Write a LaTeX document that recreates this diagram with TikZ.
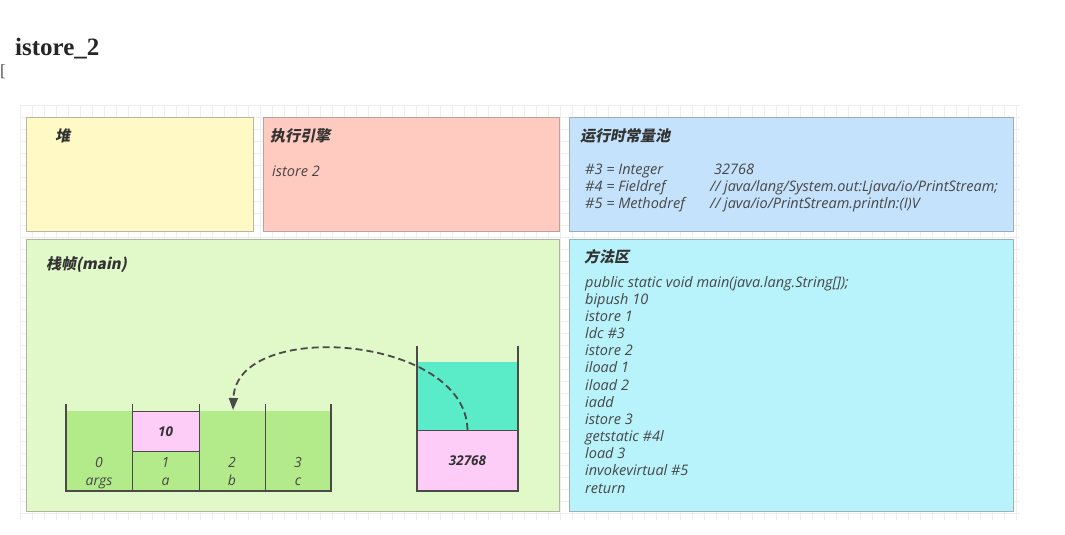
\documentclass[tikz,border=0pt]{standalone}
\usepackage{fontspec}
\setmainfont{Open Sans}
\newfontfamily\cjk[FakeSlant=0.2]{Noto Sans CJK SC}
\newfontfamily\titlefont{Liberation Serif}
\usetikzlibrary{arrows.meta}
\definecolor{heapc}{HTML}{FFF9C6}
\definecolor{enginec}{HTML}{FFCBC0}
\definecolor{poolc}{HTML}{C4E2FB}
\definecolor{framec}{HTML}{E1F9C9}
\definecolor{methodc}{HTML}{B8F2FA}
\definecolor{slotc}{HTML}{B3EB8A}
\definecolor{pinkc}{HTML}{FDCDF8}
\definecolor{cyanc}{HTML}{5AEBC9}
\definecolor{gridc}{HTML}{EEEEEE}
\definecolor{txtc}{HTML}{333333}
\definecolor{wallc}{HTML}{4A4A4A}
\tikzset{
  area/.style={draw=#1!60!black!70, line width=0.8pt, anchor=north west, inner sep=0pt},
  hdr/.style={anchor=base west, inner sep=0pt, font=\cjk\bfseries\fontsize{15}{17}\selectfont, text=txtc},
  code/.style={anchor=base west, inner sep=0pt, font=\itshape\fontsize{14.5}{17}\selectfont, text=txtc!90},
  cell/.style={anchor=base, inner sep=0pt, font=\itshape\fontsize{14}{16}\selectfont, text=txtc!90},
  val/.style={anchor=center, inner sep=0pt, font=\bfseries\itshape\fontsize{13.5}{15}\selectfont, text=txtc},
  wall/.style={draw=wallc, line width=1.6pt},
  div/.style={draw=wallc, line width=1pt},
}
\begin{document}
\begin{tikzpicture}[x=1pt,y=-1pt]
\useasboundingbox (0,0) rectangle (1065,535);
\fill[white] (0,0) rectangle (1065,535);
% faint grid
\foreach \gx in {20,32,...,1020} \draw[gridc, line width=0.4pt] (\gx,105) -- (\gx,520);
\foreach \gy in {105,117,...,520} \draw[gridc, line width=0.4pt] (20,\gy) -- (1020,\gy);
% title
\node[anchor=base west, inner sep=0pt, font=\titlefont\bfseries\fontsize{25}{29}\selectfont, text=black!85] (title) at (15,56) {istore\_2};
\node[anchor=base west, inner sep=0pt, font=\titlefont\fontsize{17}{19}\selectfont, text=black!70] (brk) at (0,77) {[};
% areas
\node[area=heapc, fill=heapc, minimum width=227pt, minimum height=114pt] (heap) at (26,117) {};
\node[area=enginec, fill=enginec, minimum width=296pt, minimum height=114pt] (engine) at (263,117) {};
\node[area=poolc, fill=poolc, minimum width=444pt, minimum height=114pt] (pool) at (569,117) {};
\node[area=framec, fill=framec, minimum width=533pt, minimum height=272pt] (frame) at (26,239) {};
\node[area=methodc, fill=methodc, minimum width=444pt, minimum height=272pt] (method) at (569,239) {};
% headers
\node[hdr] (heapT) at (55,141) {堆};
\node[hdr] (engineT) at (270,141) {执行引擎};
\node[code] (engineL) at (272,176) {istore 2};
\node[hdr] (poolT) at (580,141) {运行时常量池};
\node[code] (p1) at (585,174) {\#3 = Integer};
\node[code] (p1v) at (714,174) {32768};
\node[code] (p2) at (585,191) {\#4 = Fieldref};
\node[code] (p2v) at (710,191) {// java/lang/System.out:Ljava/io/PrintStream;};
\node[code] (p3) at (585,208) {\#5 = Methodref};
\node[code] (p3v) at (710,208) {// java/io/PrintStream.println:(I)V};
\node[hdr] (frameT) at (46,269) {栈帧(main)};
\node[hdr] (methodT) at (584,262) {方法区};
\foreach \t [count=\i from 0] in {public static void main(java.lang.String[]);,bipush 10,istore 1,ldc \#3,istore 2,iload 1,iload 2,iadd,istore 3,getstatic \#4l,load 3,invokevirtual \#5,return}
  \node[code] (m\i) at (585,{287+17.17*\i}) {\t};
% local variable table
\fill[slotc] (66,411) rectangle (331,491);
\fill[pinkc] (132,411) rectangle (199,451);
\draw[div] (132,411) rectangle (199,451);
\draw[div] (132,404) -- (132,491);
\draw[div] (199,404) -- (199,491);
\draw[div] (265,404) -- (265,491);
\draw[wall] (66,404) -- (66,491) -- (331,491) -- (331,404);
\node[val] (v10) at (165.5,432) {10};
\node[cell] (s0) at (99,467) {0};
\node[cell] (s0n) at (99,485) {args};
\node[cell] (s1) at (165.5,467) {1};
\node[cell] (s1n) at (165.5,485) {a};
\node[cell] (s2) at (232,467) {2};
\node[cell] (s2n) at (232,485) {b};
\node[cell] (s3) at (298,467) {3};
\node[cell] (s3n) at (298,485) {c};
\coordinate (slot2top) at (233,410);
% operand stack
\fill[cyanc] (417,362) rectangle (518,430);
\fill[pinkc] (417,430) rectangle (518,491);
\draw[div] (417,430) -- (518,430);
\draw[wall] (417,346) -- (417,491) -- (518,491) -- (518,346);
\node[val] (v32768) at (467.5,461) {32768};
\coordinate (stacktop) at (467.5,430);
% dashed move arrow
\draw[wallc, line width=1.8pt, dash pattern=on 7pt off 4pt, -{Triangle[length=12pt,width=9pt]}]
  (stacktop) .. controls (466,335) and (236,318) .. (slot2top);
\end{tikzpicture}
\end{document}
